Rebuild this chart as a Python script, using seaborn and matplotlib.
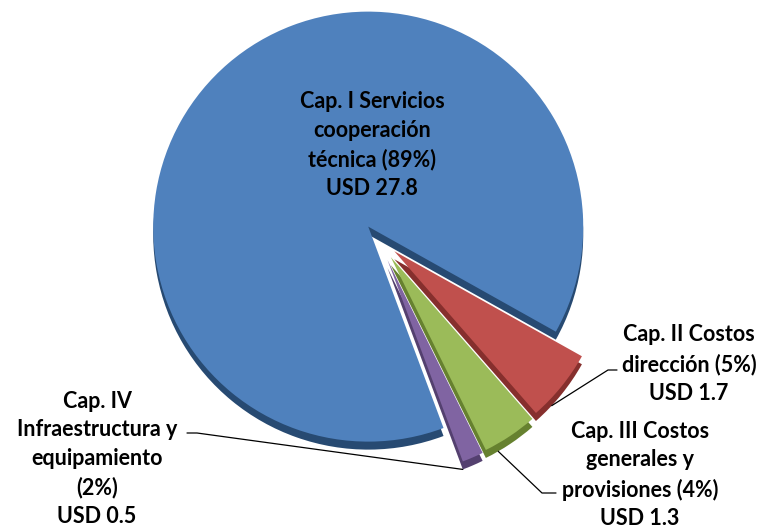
import math
import matplotlib
matplotlib.use("Agg")
import matplotlib.pyplot as plt
import seaborn as sns

# budget chapters (USD millions)
categories = [
    "Cap. I Servicios\ncooperación\ntécnica",
    "Cap. II Costos\ndirección",
    "Cap. III Costos\ngenerales y\nprovisiones",
    "Cap. IV\nInfraestructura y\nequipamiento",
]
values = [27.8, 1.7, 1.3, 0.5]
pct_sep = [" ", " ", " ", "\n"]

face_colors = ["#4F81BD", "#C0504D", "#9BBB59", "#8064A2"]
side_colors = ["#274A72", "#862F2D", "#66812F", "#54406F"]

W, H = 763, 529
CX, CY, R = 378, 238, 215      # pie centre / radius in pixels (y from top)
DEPTH = 8                      # fake 3D thickness
explode = [15, 21, 23, 24]


def py(y):
    return H - y


sns.set_theme(style="white")
plt.rcParams["font.family"] = ["Lato", "DejaVu Sans"]

fig = plt.figure(figsize=(W / 100, H / 100), dpi=100)
ax = fig.add_axes([0, 0, 1, 1])

start = 290.5
# side (depth) of the slices, then the top face
ax.pie(values, colors=side_colors, explode=explode, radius=R,
       center=(CX, py(CY + DEPTH)), startangle=start, counterclock=False,
       wedgeprops=dict(linewidth=0))
wedges, _ = ax.pie(values, colors=face_colors, explode=explode, radius=R,
                   center=(CX, py(CY)), startangle=start, counterclock=False,
                   wedgeprops=dict(linewidth=0))

ax.set_xlim(0, W)
ax.set_ylim(0, H)
ax.set_aspect("equal")
ax.axis("off")

total = sum(values)
labels = [f"{c}{s}({v / total * 100:.0f}%)\nUSD {v}"
          for c, s, v in zip(categories, pct_sep, values)]


def rim_point(w, frac):
    ang = math.radians(w.theta1 + frac * (w.theta2 - w.theta1))
    return (w.center[0] + w.r * math.cos(ang),
            w.center[1] + w.r * math.sin(ang) - DEPTH)


txt = dict(ha="center", va="center", fontsize=15.5, fontweight="bold",
           linespacing=1.45, color="black")

# main slice label sits inside the pie
ax.text(372, py(145), labels[0], **txt)

# small slices: label position, elbow, end of leader line (pixels)
layout = [
    None,
    ((689, 364), (608, 370), (617, 370), 0.3),
    ((640, 475), (542, 493), (556, 493), 0.25),
    ((97, 459), (197, 433), (187, 433), 0.0),
]
for w, lab, lay in zip(wedges[1:], labels[1:], layout[1:]):
    (tx, ty), (ex, ey), (sx, sy), frac = lay
    ax.text(tx, py(ty), lab, **txt)
    ax0, ay0 = rim_point(w, frac)
    ax.plot([ax0, ex, sx], [ay0, py(ey), py(sy)], color="black", lw=0.9)

fig.savefig("out.png", dpi=100)
